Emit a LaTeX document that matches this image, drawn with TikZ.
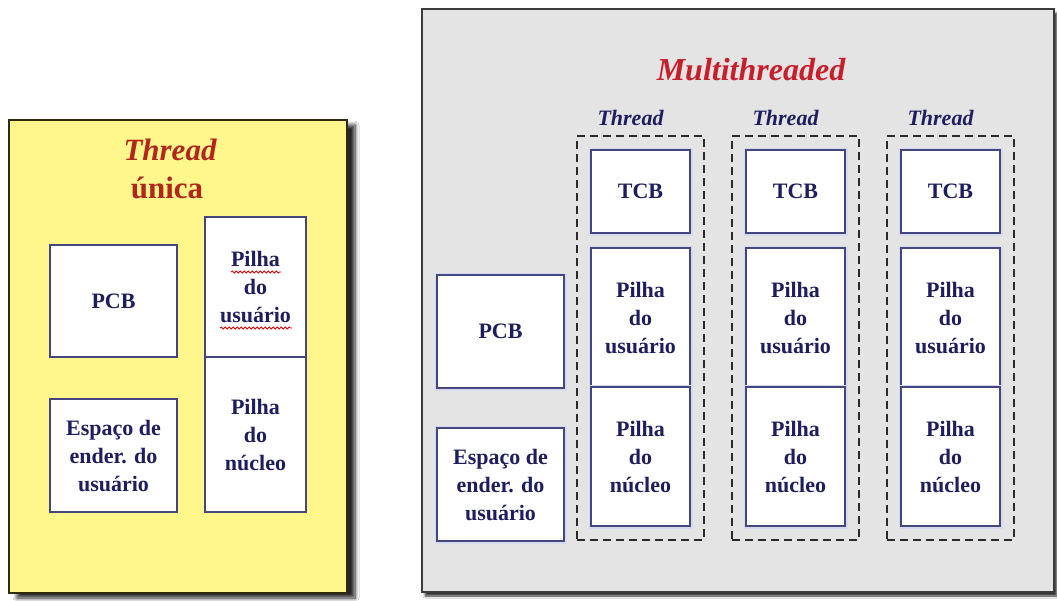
\documentclass[tikz,border=0pt]{standalone}
\usepackage{fontspec}
\setmainfont{Liberation Serif}
\usetikzlibrary{decorations.pathmorphing,shadows.blur}
\definecolor{yellowbg}{HTML}{FFF68C}
\definecolor{yellowline}{HTML}{2E2A10}
\definecolor{graybg}{HTML}{E4E4E4}
\definecolor{grayline}{HTML}{3C3C3C}
\definecolor{shadowc}{HTML}{4A4438}
\definecolor{navy}{HTML}{1E1E5E}
\definecolor{boxline}{HTML}{45457F}
\definecolor{halo}{HTML}{D6DAEE}
\definecolor{titlered}{HTML}{C81E2C}
\definecolor{titlebrown}{HTML}{B3261E}
\definecolor{dashc}{HTML}{2A2A2A}
\tikzset{
  panel/.style={line width=2pt, inner sep=0pt},
  box/.style={draw=boxline, line width=1.5pt, fill=white, inner sep=0pt,
    font=\fontsize{22}{28}\selectfont\bfseries, text=navy, align=center},
  haloed/.style={preaction={draw=halo, line width=5pt}},
  dashbox/.style={draw=dashc, line width=2.4pt, dash pattern=on 8pt off 5pt, inner sep=0pt},
  tlabel/.style={font=\fontsize{22}{26}\selectfont\bfseries\itshape, text=navy, inner sep=0pt},
  bigtitle/.style={font=\fontsize{31}{36}\selectfont\bfseries, inner sep=0pt},
  wavy/.style={draw=red!85!black, line width=0.8pt, decorate,
    decoration={snake, amplitude=1.1pt, segment length=4pt}}
}
\begin{document}
\begin{tikzpicture}[x=1pt,y=-1pt]
\useasboundingbox (0,0) rectangle (1057,600);
\fill[white] (0,0) rectangle (1057,600);

% ---------- single-threaded panel ----------
\node[panel, draw=yellowline, fill=yellowbg, minimum width=338, minimum height=473,
  blur shadow={shadow xshift=8pt, shadow yshift=-5pt, shadow blur radius=4pt,
  shadow opacity=85, shadow blur steps=8}] (single) at (178,356.5) {};
\node[bigtitle, text=titlebrown] (titleT) at (170,150) {\itshape Thread};
\node[bigtitle, text=titlebrown] (titleU) at (167,188) {única};

\node[box, minimum width=127, minimum height=112] (pcbL) at (113.5,301) {PCB};
\node[box, minimum width=127, minimum height=113] (espL) at (113.5,455.5) {Espaço de\\ender. do\\usuário};
\node[box, minimum width=101, minimum height=140] (puL) at (255.5,287) {Pilha\\do\\usuário};
\node[box, minimum width=101, minimum height=155] (pnL) at (255.5,434.5) {Pilha\\do\\núcleo};
\draw[wavy] (231,272) -- (281,272);
\draw[wavy] (220,328) -- (292,328);

% ---------- multithreaded panel ----------
\node[panel, draw=grayline, fill=graybg, minimum width=632, minimum height=583,
  blur shadow={shadow xshift=3pt, shadow yshift=-4pt, shadow blur radius=2pt,
  shadow opacity=80, shadow blur steps=6}] (multi) at (738,300.5) {};
\node[bigtitle, font=\fontsize{32}{36}\selectfont\bfseries\itshape, text=titlered] (titleM) at (751,70) {Multithreaded};

\node[box, haloed, minimum width=127, minimum height=113] (pcbR) at (500.5,331.5) {PCB};
\node[box, haloed, minimum width=127, minimum height=113] (espR) at (500.5,484.5) {Espaço de\\ender. do\\usuário};

\foreach \i/\dx in {1/577, 2/732, 3/887} {
  \node[dashbox, minimum width=127, minimum height=404] (T\i) at (\dx+63.5,338) {};
  \node[tlabel] (L\i) at (\dx+53.5,118) {Thread};
  \node[box, haloed, minimum width=99, minimum height=83] (tcb\i) at (\dx+63.5,191.5) {TCB};
  \node[box, haloed, minimum width=99, minimum height=139] (pu\i) at (\dx+63.5,317.5) {Pilha\\do\\usuário};
  \node[box, haloed, minimum width=99, minimum height=139] (pn\i) at (\dx+63.5,456.5) {Pilha\\do\\núcleo};
}
\end{tikzpicture}
\end{document}
